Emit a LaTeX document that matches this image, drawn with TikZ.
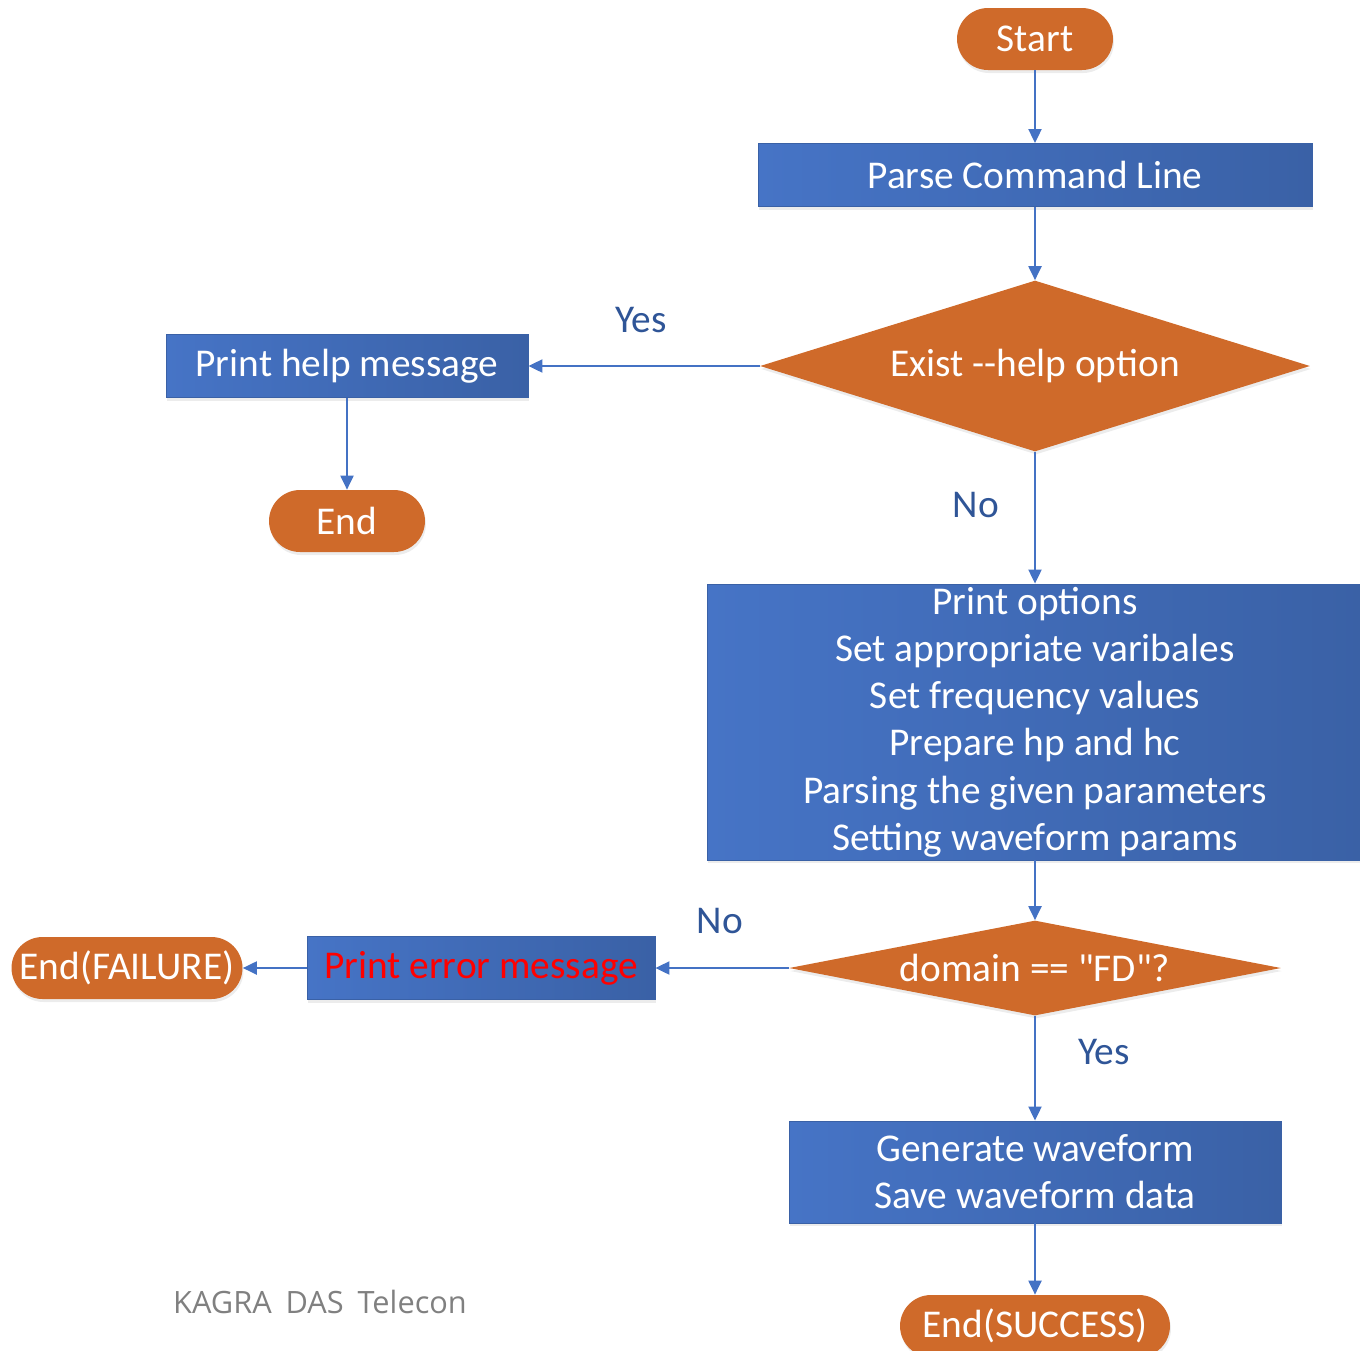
\documentclass[tikz,border=0pt]{standalone}
\usepackage{fontspec}
\setmainfont{Carlito}[Ligatures = TeXOff]
\newfontfamily\notefont{Open Sans}
\usetikzlibrary{shapes.geometric, arrows.meta, shadows}
\definecolor{boxblue}{HTML}{4674C6}
\definecolor{boxbluedark}{HTML}{3A61A6}
\definecolor{termorange}{HTML}{CF6A2A}
\definecolor{linkblue}{HTML}{4472C4}
\definecolor{labelblue}{HTML}{2F5597}
\definecolor{notegray}{HTML}{808080}

\begin{document}
\begin{tikzpicture}[x = 0.02cm, y = -0.02cm,
    every node/.style = {font = \fontsize{22.4}{26.9}\selectfont, text = white, inner sep = 0pt},
    softshadow/.style = {drop shadow = {opacity = 0.15, shadow xshift = 0.02cm, shadow yshift = -0.06cm}},
    terminal/.style = {shape = rectangle, rounded corners = 0.62cm, fill = termorange,
        minimum height = 1.24cm, softshadow},
    process/.style = {shape = rectangle, draw = boxbluedark, line width = 0.5pt,
        left color = boxblue, right color = boxbluedark, minimum height = 1.26cm,
        align = center, softshadow},
    decision/.style = {shape = diamond, fill = termorange, softshadow},
    link/.style = {draw = linkblue, line width = 0.04cm, -{Triangle[length = 0.28cm, width = 0.26cm]}},
    answer/.style = {text = labelblue}]
    \useasboundingbox (0,0) rectangle (1360,1350);

    % main column
    \node[terminal, minimum width = 3.12cm] (start) at (1035,39) {Start};
    \node[process, minimum width = 11.08cm] (parse) at (1035,175) {Parse Command Line};
    \node[decision, aspect = 3.2, minimum width = 11cm, minimum height = 3.42cm] (helpopt) at (1035,366) {Exist --help option};
    \node[process, minimum width = 13.12cm, minimum height = 5.52cm] (setup) at (1035,722)
        {Print options\\Set appropriate varibales\\Set frequency values\\Prepare hp and hc\\Parsing the given parameters\\Setting waveform params};
    \node[decision, aspect = 5.2, minimum width = 9.84cm, minimum height = 1.9cm] (domain) at (1035,968) {domain == "FD"?};
    \node[process, minimum width = 9.84cm, minimum height = 2.04cm] (generate) at (1035,1172) {Generate waveform\\Save waveform data};
    \node[terminal, minimum width = 5.4cm] (successend) at (1035,1326) {End(SUCCESS)};

    % side branches
    \node[process, minimum width = 7.24cm] (helpmsg) at (347,366) {Print help message};
    \node[terminal, minimum width = 3.12cm] (helpend) at (347,521) {End};
    \node[process, minimum width = 6.96cm, text = red] (errmsg) at (481,968) {Print error message};
    \node[terminal, minimum width = 4.62cm] (failend) at (127,968) {End(FAILURE)};

    % answers
    \node[answer] (helpyes) at (641,320) {Yes};
    \node[answer] (helpno) at (976,505) {No};
    \node[answer] (domainno) at (720,921) {No};
    \node[answer] (domainyes) at (1104,1052) {Yes};

    \node[text = notegray, font = \notefont\fontsize{17.5}{22}\selectfont] (footer) at (320,1302) {KAGRA\hspace{0.45em}DAS\hspace{0.45em}Telecon};

    \draw[link] (start) -- (parse);
    \draw[link] (parse) -- (helpopt);
    \draw[link] (helpopt.west) -- (helpmsg.east);
    \draw[link] (helpmsg) -- (helpend);
    \draw[link] (helpopt.south) -- (setup.north);
    \draw[link] (setup) -- (domain);
    \draw[link] (domain.west) -- (errmsg.east);
    \draw[link] (errmsg) -- (failend);
    \draw[link] (domain.south) -- (generate.north);
    \draw[link] (generate) -- (successend);
\end{tikzpicture}
\end{document}
